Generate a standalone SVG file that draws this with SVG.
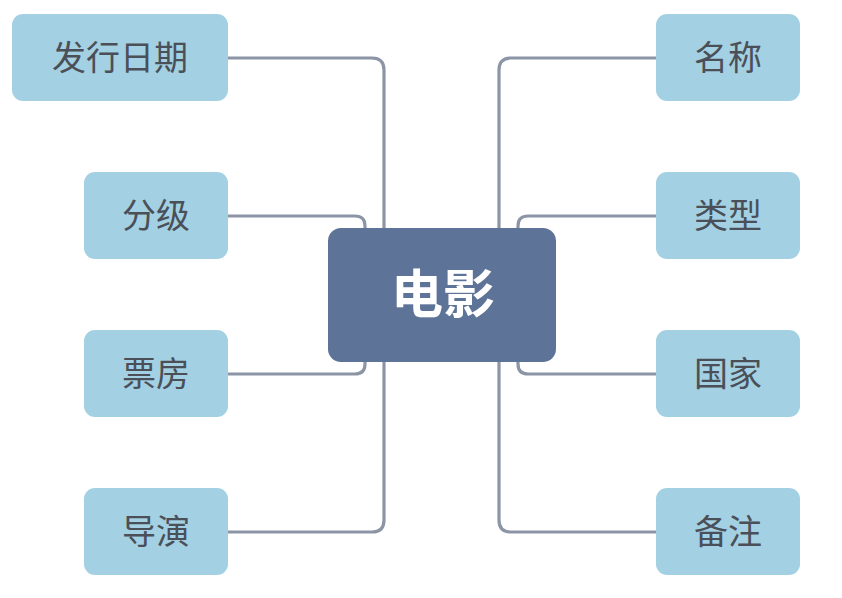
<svg xmlns="http://www.w3.org/2000/svg" width="842" height="598" viewBox="0 0 842 598">
<style>
.leaf{fill:#a3d1e3}
.lt{font-family:"Noto Sans CJK SC","Noto Sans",sans-serif;font-size:34px;fill:#4a4f58;text-anchor:middle;dominant-baseline:central}
.ct{font-family:"Noto Sans CJK SC","Noto Sans",sans-serif;font-size:52px;font-weight:bold;fill:#ffffff;text-anchor:middle;dominant-baseline:central}
.c{fill:none;stroke:#8c95a5;stroke-width:3.2}
</style>
<rect width="842" height="598" fill="#ffffff"/>
<g id="connectors">
<path class="c" d="M228 58 H372 Q384 58 384 70 V240"/>
<path class="c" d="M228 216 H355 Q365 216 365 226 V240"/>
<path class="c" d="M228 374 H355 Q365 374 365 364 V350"/>
<path class="c" d="M228 532 H372 Q384 532 384 520 V350"/>
<path class="c" d="M656 58 H511 Q499 58 499 70 V240"/>
<path class="c" d="M656 216 H528 Q518 216 518 226 V240"/>
<path class="c" d="M656 374 H528 Q518 374 518 364 V350"/>
<path class="c" d="M656 532 H511 Q499 532 499 520 V350"/>
</g>
<g id="center"><rect x="328" y="228" width="228" height="134" rx="13" fill="#5e7398"/><text class="ct" x="443" y="290">电影</text></g>
<g id="n-fxrq"><rect class="leaf" x="12" y="14" width="216" height="87" rx="11"/><text class="lt" x="120" y="55.5">发行日期</text></g>
<g id="n-fj"><rect class="leaf" x="84" y="172" width="144" height="87" rx="11"/><text class="lt" x="156" y="213.5">分级</text></g>
<g id="n-pf"><rect class="leaf" x="84" y="330" width="144" height="87" rx="11"/><text class="lt" x="156" y="371.5">票房</text></g>
<g id="n-dy"><rect class="leaf" x="84" y="488" width="144" height="87" rx="11"/><text class="lt" x="156" y="529.5">导演</text></g>
<g id="n-mc"><rect class="leaf" x="656" y="14" width="144" height="87" rx="11"/><text class="lt" x="728" y="55.5">名称</text></g>
<g id="n-lx"><rect class="leaf" x="656" y="172" width="144" height="87" rx="11"/><text class="lt" x="728" y="213.5">类型</text></g>
<g id="n-gj"><rect class="leaf" x="656" y="330" width="144" height="87" rx="11"/><text class="lt" x="728" y="371.5">国家</text></g>
<g id="n-bz"><rect class="leaf" x="656" y="488" width="144" height="87" rx="11"/><text class="lt" x="728" y="529.5">备注</text></g>
</svg>
